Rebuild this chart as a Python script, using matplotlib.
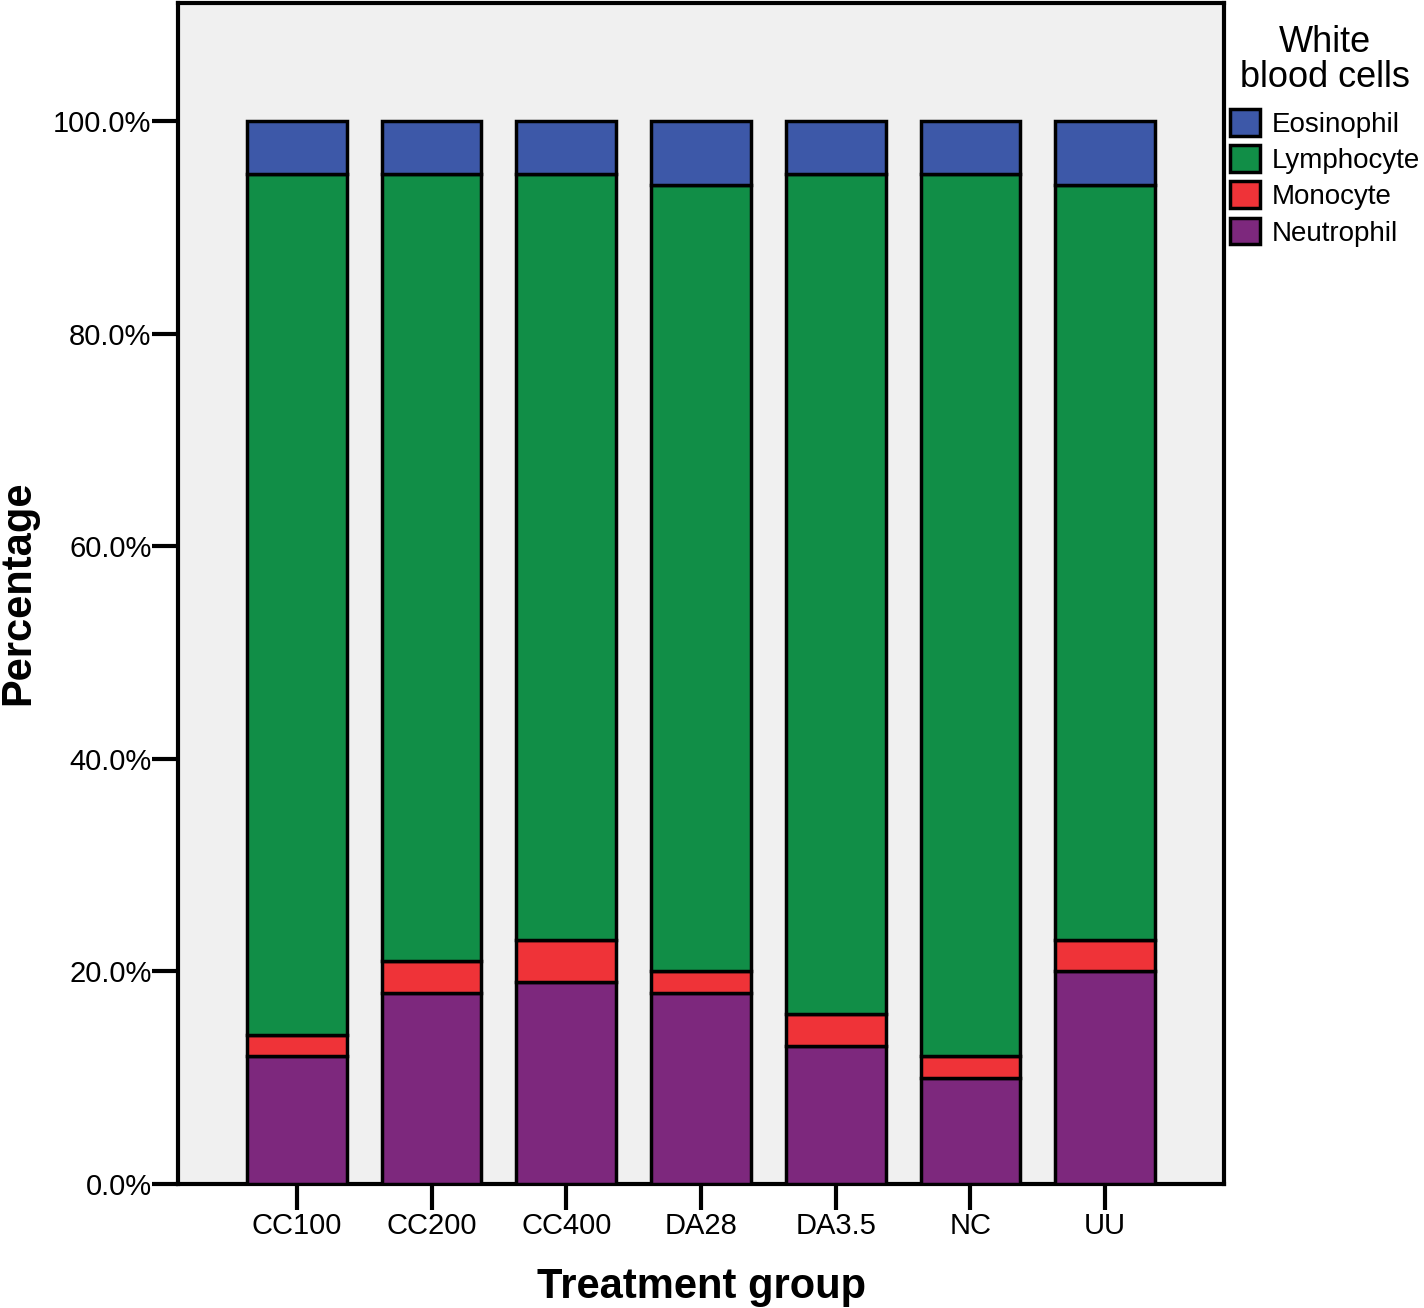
import matplotlib.pyplot as plt
from matplotlib.patches import Patch
from matplotlib.ticker import PercentFormatter
import numpy as np

plt.rcParams['font.family'] = ['Liberation Sans', 'DejaVu Sans']

# percentages
groups = ['CC100', 'CC200', 'CC400', 'DA28', 'DA3.5', 'NC', 'UU']
neutrophil = [12, 18, 19, 18, 13, 10, 20]
monocyte = [2, 3, 4, 2, 3, 2, 3]
lymphocyte = [81, 74, 72, 74, 79, 83, 71]
eosinophil = [5, 5, 5, 6, 5, 5, 6]

colors = {'Eosinophil': '#3d58a8', 'Lymphocyte': '#118e47',
          'Monocyte': '#ef3338', 'Neutrophil': '#7d287d'}

fig = plt.figure(figsize=(14.24, 13.08), dpi=100)
ax = fig.add_axes([0.125, 0.0948, 0.7346, 0.9029])
ax.set_facecolor('#f0f0f0')

x = np.arange(len(groups))
bottom = np.zeros(len(groups))
for name, vals in [('Neutrophil', neutrophil), ('Monocyte', monocyte),
                   ('Lymphocyte', lymphocyte), ('Eosinophil', eosinophil)]:
    ax.bar(x, vals, width=0.74, bottom=bottom, color=colors[name],
           edgecolor='black', linewidth=2.5, zorder=3)
    bottom += np.array(vals)

ax.set_xlim(-0.883, 6.883)
ax.set_ylim(0, 111.1)
ax.set_yticks([0, 20, 40, 60, 80, 100])
ax.yaxis.set_major_formatter(PercentFormatter(decimals=1))
ax.set_xticks(x)
ax.set_xticklabels(groups)
ax.tick_params(axis='both', labelsize=21, width=3, length=19, direction='out')
ax.tick_params(axis='y', pad=0)
ax.tick_params(axis='x', pad=1)
for s in ax.spines.values():
    s.set_linewidth(3)

# axis titles placed by hand so they stay inside the canvas
fig.text(0.4925, 0.016, 'Treatment group', fontsize=30, fontweight='bold',
         ha='center', va='center')
fig.text(0.0125, 0.547, 'Percentage', fontsize=30, fontweight='bold',
         ha='center', va='center', rotation=90)

handles = [Patch(facecolor=colors[n], edgecolor='black', linewidth=2.5, label=n)
           for n in ['Eosinophil', 'Lymphocyte', 'Monocyte', 'Neutrophil']]
leg = fig.legend(handles=handles, title='White\nblood cells', loc='upper left',
                 bbox_to_anchor=(0.8616, 0.983), frameon=False, fontsize=20,
                 title_fontsize=26, handlelength=1.1, handleheight=1.1,
                 handletextpad=0.4, labelspacing=0.27, borderaxespad=0,
                 borderpad=0.1)
leg._legend_box.align = 'center'
leg._legend_box.sep = 10
leg.get_title().set_multialignment('center')
leg.get_title().set_linespacing(1.0)

fig.savefig('out.png', dpi=100)
